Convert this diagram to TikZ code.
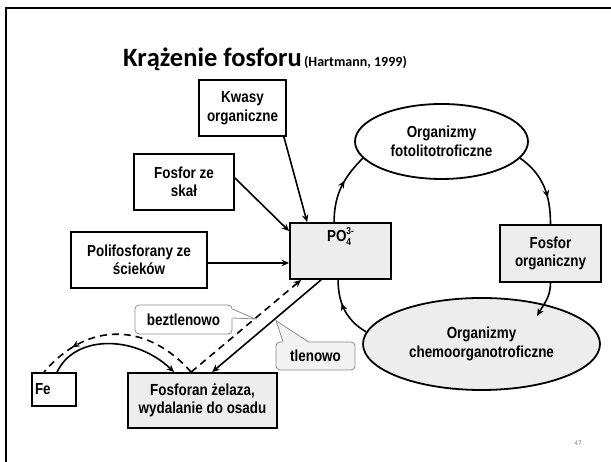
\documentclass[tikz,border=0pt]{standalone}
\usepackage{fontspec}
\setmainfont{Liberation Sans}[FakeStretch=0.84]
\newfontfamily\titlefont{Carlito}
\usetikzlibrary{arrows.meta,calc,decorations.markings,shapes.geometric}

\definecolor{boxgray}{gray}{0.93}
\definecolor{calloutedge}{gray}{0.55}
\definecolor{calloutfill}{gray}{0.95}

\tikzset{
  labelfont/.style={font=\bfseries\fontsize{16}{18.5}\selectfont},
  box/.style={draw, line width=1.8pt, fill=white, inner sep=0pt, align=center, labelfont},
  graybox/.style={box, fill=boxgray},
  ell/.style={ellipse, draw, line width=1.8pt, fill=white, inner sep=0pt, align=center, labelfont},
  callout/.style={draw=calloutedge, line width=0.8pt, rounded corners=4pt, inner sep=0pt, labelfont},
  tip/.style={-{Stealth[length=7.5pt,width=6.5pt]}},
  conn/.style={line width=1.6pt, tip},
  dashconn/.style={line width=1.6pt, dash pattern=on 7pt off 5pt},
  midarrow/.style={line width=1.6pt, postaction={decorate},
    decoration={markings, mark=at position #1 with {\arrow{Stealth[length=7.5pt,width=6.5pt]}}}},
  midarrow/.default=0.6
}

\begin{document}
\begin{tikzpicture}[x=1pt,y=1pt]
\useasboundingbox (0,0) rectangle (611,462);

% slide frame (top and left edges)
\draw[line width=2pt] (611,454) -- (6,454) -- (6,0);

% title
\node[anchor=base west, inner sep=0pt, font=\titlefont\bfseries] (title) at (123,395)
  {{\fontsize{26.5}{30}\selectfont Krążenie fosforu} {\fontsize{14}{16}\selectfont (Hartmann, 1999)}};

% boxes
\node[box, minimum width=87pt, minimum height=56pt] (kwasy) at (242.5,354) {Kwasy\\organiczne};
\node[box, minimum width=100pt, minimum height=56pt] (skal) at (184,280) {Fosfor ze\\skał};
\node[box, minimum width=136pt, minimum height=56pt] (poli) at (139,202) {Polifosforany ze\\ścieków};
\node[graybox, minimum width=101pt, text height=19pt, text depth=37pt] (po4) at (340.5,211)
  {PO\rlap{\raisebox{-3.5pt}{\fontsize{10}{10}\selectfont 4}}\raisebox{7pt}{\fontsize{10}{10}\selectfont 3-}};
\node[graybox, minimum width=101pt, minimum height=57pt] (fosorg) at (550.5,208.5) {Fosfor\\organiczny};
\node[box, minimum width=44pt, minimum height=33pt, text width=38pt, align=left, inner xsep=3pt] (fe) at (54,72.5) {Fe};
\node[graybox, minimum width=149pt, minimum height=55pt] (fosfe) at (202.5,61.5) {Fosforan żelaza,\\wydalanie do osadu};

% ellipses
\node[ell, minimum width=173pt, minimum height=75pt] (foto) at (441.5,320.5) {Organizmy\\fotolitotroficzne};
\node[ell, fill=boxgray, minimum width=237pt, minimum height=92pt] (chemo) at (481.5,118) {Organizmy\\chemoorganotroficzne};

% inputs to phosphate
\draw[conn] ($(kwasy.south east)+(-3,0)$) -- ($(po4.north west)+(18,0)$);
\draw[conn] ($(skal.east)+(0,4)$) -- ($(po4.north west)+(0,-9)$);
\draw[conn] ($(poli.east)+(0,-3)$) -- ($(po4.west)+(0,-12)$);

% biological cycle
\draw[midarrow=0.6] ($(po4.north west)+(45,0)$) to[out=90, in=225] (foto.192);
\draw[midarrow=0.65] (foto.-12) to[out=-35, in=90] (fosorg.north);
\draw[conn] (fosorg.south) to[out=-90, in=60] ($(chemo.center)+(55.5,28)$);
\draw[midarrow=0.62] (chemo.174) to[out=150, in=-90] ($(po4.south west)+(49,0)$);

% iron phosphate: aerobic (solid) and anaerobic (dashed)
\draw[conn] ($(po4.south west)+(32,0)$) -- ($(fosfe.north west)+(85,0)$);
\draw[dashconn, tip] ($(fosfe.north west)+(64,0)$) -- ($(po4.south west)+(12,0)$);
\draw[dashconn, postaction={decorate},
  decoration={markings, mark=at position 0.78 with {\arrow{Stealth[length=7.5pt,width=6.5pt]}}}]
  ($(fosfe.north west)+(64,0)$) .. controls +(-42,48) and +(45,53) .. ($(fe.north west)+(13,0)$);
\draw[conn] ($(fe.north west)+(26,0)$) .. controls +(17,37) and +(-40,38) .. ($(fosfe.north west)+(47,0)$);

% callouts
\node[callout, fill=white, minimum width=97pt, minimum height=29pt] (bez) at (183.5,142.5) {beztlenowo};
\fill[white] ($(bez.east)+(-1.2,10.5)$) -- ($(bez.east)+(23,0.5)$) -- ($(bez.east)+(-1.2,1.5)$) -- cycle;
\draw[calloutedge, line width=0.8pt] ($(bez.east)+(0,10.5)$) -- ($(bez.east)+(23,0.5)$) -- ($(bez.east)+(0,1.5)$);

\node[callout, fill=calloutfill, minimum width=79pt, minimum height=28pt] (tlen) at (315.5,106) {tlenowo\hspace{6pt}};
\fill[calloutfill] ($(tlen.north)+(-32.5,-1.2)$) -- ($(tlen.north)+(-39.5,21)$) -- ($(tlen.north)+(-7.5,-1.2)$) -- cycle;
\draw[calloutedge, line width=0.8pt] ($(tlen.north)+(-32.5,0)$) -- ($(tlen.north)+(-39.5,21)$) -- ($(tlen.north)+(-7.5,0)$);

% page number
\node[font=\titlefont\fontsize{7}{8}\selectfont, text=gray] (pnum) at (578,19) {47};
\end{tikzpicture}
\end{document}
